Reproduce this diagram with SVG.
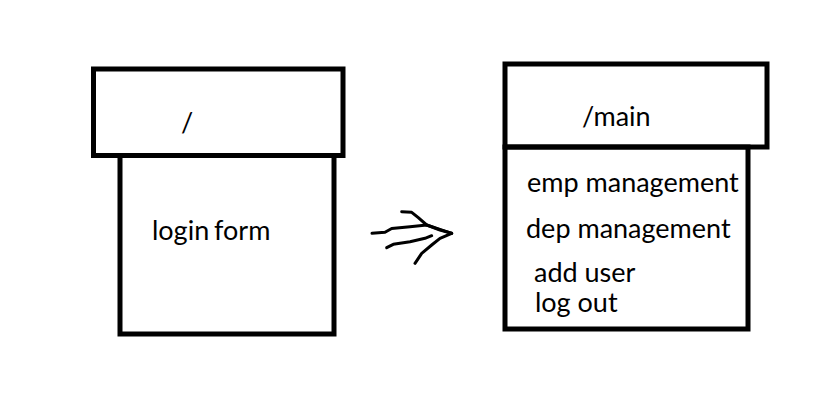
<svg xmlns="http://www.w3.org/2000/svg" width="831" height="417" viewBox="0 0 831 417">
<style>
.box{fill:none;stroke:#000;stroke-width:5}
.t{font-family:Lato,"Liberation Sans",sans-serif;font-size:27px;fill:#000}
.sq{fill:none;stroke:#000;stroke-width:3;stroke-linecap:round;stroke-linejoin:round}
</style>
<rect width="831" height="417" fill="#fff"/>
<g id="node-root">
<rect class="box" x="93.5" y="69" width="249.5" height="86.5"/>
<rect class="box" x="120" y="155.5" width="214" height="178.5"/>
<text class="t" x="181" y="132">/</text>
<text class="t" x="152" y="240">login<tspan x="214">form</tspan></text>
</g>
<g id="node-main">
<rect class="box" x="505" y="64" width="262" height="83"/>
<rect class="box" x="505" y="147" width="243" height="182"/>
<text class="t" x="582" y="126">/main</text>
<text class="t" x="527" y="192">emp management</text>
<text class="t" x="526" y="238">dep management</text>
<text class="t" x="534" y="282">add user</text>
<text class="t" x="535" y="312">log out</text>
</g>
<g id="connectors">
<path class="sq" d="M372 233.3 L385 232.3 L391.7 228.5 L410 226.7 L426.7 225 L451.7 233.3"/>
<path class="sq" d="M401.7 211.7 L411.7 212.3 L418.3 217.7 L426.7 225 L440 230 L451.7 233.3"/>
<path class="sq" d="M386.7 247.7 L393.3 244.3 L410 241.7 L425 238.3 L431.7 235.7"/>
<path class="sq" d="M415 263.3 L421.7 253.3 L431.7 245 L440 238.3 L451.7 233.3"/>
</g>
</svg>
